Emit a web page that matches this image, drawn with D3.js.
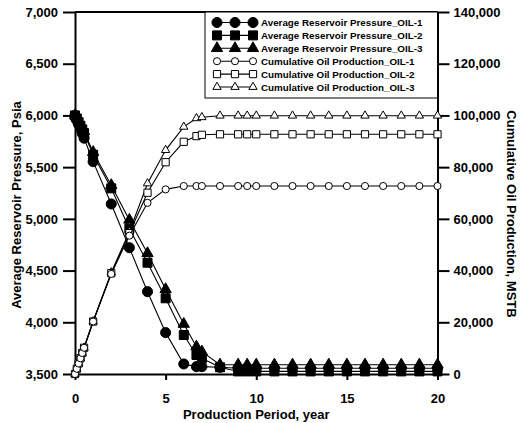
<!DOCTYPE html>
<html>
<head>
<meta charset="utf-8">
<script src="https://cdn.jsdelivr.net/npm/d3@7"></script>
<style>
  body { margin: 0; background: #fff; }
  text { font-family: "Liberation Sans", Arial, sans-serif; font-weight: bold; }
</style>
</head>
<body>
<svg id="chart" width="521" height="423"></svg>
<script>
// time axis, years
const years = [0, 0.1, 0.2, 0.3, 0.4, 0.5, 1, 2, 3, 4, 5, 6, 6.7, 7, 8, 9, 9.5, 10,
    11, 12, 13, 14, 15, 16, 17, 18, 19, 20];

// average reservoir pressure, psia
const pressOil1 = [6000, 5960, 5915, 5870, 5825, 5780, 5553, 5144, 4721, 4296, 3900, 3597, 3571, 3571, 3565,
    3555, 3555, 3555, 3555, 3555, 3555, 3555, 3555, 3555, 3555, 3555, 3555, 3555];
const pressOil2 = [6000, 5970, 5935, 5900, 5865, 5830, 5620, 5295, 4905, 4576, 4232, 3877, 3684, 3652, 3565,
    3525, 3525, 3525, 3525, 3525, 3525, 3525, 3525, 3525, 3525, 3525, 3525, 3525];
const pressOil3 = [6000, 5975, 5945, 5915, 5880, 5845, 5645, 5325, 4990, 4667, 4319, 3983, 3764, 3716, 3590,
    3590, 3590, 3590, 3590, 3590, 3590, 3590, 3590, 3590, 3590, 3590, 3590, 3590];

// cumulative oil production, MSTB
const cumOil1 = [0, 2030, 4060, 6090, 8120, 10150, 20300, 38700, 53500, 66200, 71400, 72700, 72700, 72700,
    72700, 72700, 72700, 72700, 72700, 72700, 72700, 72700, 72700, 72700, 72700, 72700, 72700, 72700];
const cumOil2 = [0, 2030, 4060, 6090, 8120, 10150, 20300, 39000, 54500, 70100, 81900, 89800, 92000, 92500,
    92700, 92700, 92700, 92700, 92700, 92700, 92700, 92700, 92700, 92700, 92700, 92700, 92700, 92700];
const cumOil3 = [0, 2030, 4060, 6090, 8120, 10150, 20300, 39300, 55000, 73700, 86600, 95600, 98900, 99300,
    99900, 99900, 99900, 99900, 99900, 99900, 99900, 99900, 99900, 99900, 99900, 99900, 99900, 99900];

const xTicks = [0, 5, 10, 15, 20];
const pressTicks = [3500, 4000, 4500, 5000, 5500, 6000, 6500, 7000];
const cumTicks = [0, 20000, 40000, 60000, 80000, 100000, 120000, 140000];

const legendLabels = [
    "Average Reservoir Pressure_OIL-1",
    "Average Reservoir Pressure_OIL-2",
    "Average Reservoir Pressure_OIL-3",
    "Cumulative Oil Production_OIL-1",
    "Cumulative Oil Production_OIL-2",
    "Cumulative Oil Production_OIL-3"
];

function makeChart() {
    let left = 75, right = 437.5, top = 12, bottom = 374;
    let svg = d3.select("#chart");

    let scX = d3.scaleLinear().domain([0, 20]).range([left, right]);
    let scP = d3.scaleLinear().domain([3500, 7000]).range([bottom, top]);
    let scC = d3.scaleLinear().domain([0, 140000]).range([bottom, top]);
    let fmt = d3.format(",");

    // axes
    let axL = svg.append("g").attr("transform", `translate(${left},0)`)
        .call(d3.axisLeft(scP).tickValues(pressTicks).tickFormat(fmt)
            .tickSize(12).tickSizeOuter(0).tickPadding(5));
    let axR = svg.append("g").attr("transform", `translate(${right},0)`)
        .call(d3.axisRight(scC).tickValues(cumTicks).tickFormat(fmt)
            .tickSize(12).tickSizeOuter(0).tickPadding(4));
    let axB = svg.append("g").attr("transform", `translate(0,${bottom})`)
        .call(d3.axisBottom(scX).tickValues(xTicks).tickFormat(d3.format("d"))
            .tickSize(6).tickSizeOuter(0).tickPadding(14));

    [axL, axR, axB].forEach(ax => {
        ax.selectAll("path.domain").attr("stroke", "#000").attr("stroke-width", 2);
        ax.selectAll(".tick line").attr("stroke", "#000").attr("stroke-width", 2);
        ax.selectAll(".tick text").attr("fill", "#000")
            .style("font-size", "13px").style("font-family", "'Liberation Sans', Arial, sans-serif")
            .style("font-weight", "bold");
    });

    // top border
    svg.append("line")
        .attr("x1", left).attr("x2", right).attr("y1", top).attr("y2", top)
        .attr("stroke", "#000").attr("stroke-width", 2);

    // axis titles
    svg.append("text").attr("x", (left + right) / 2).attr("y", 419)
        .attr("text-anchor", "middle").style("font-size", "13px")
        .text("Production Period, year");
    svg.append("text")
        .attr("transform", "translate(21,205) rotate(-90)")
        .attr("text-anchor", "middle").style("font-size", "13px")
        .text("Average Reservoir Pressure, Psia");
    svg.append("text")
        .attr("transform", "translate(507,214) rotate(90)")
        .attr("text-anchor", "middle").style("font-size", "13px")
        .text("Cumulative Oil Production, MSTB");

    // series: drawn triangles first so circles end up on top
    let series = [
        { vals: pressOil3, sc: scP, shape: d3.symbolTriangle, size: 55, fill: "#000" },
        { vals: pressOil2, sc: scP, shape: d3.symbolSquare, size: 81, fill: "#000" },
        { vals: pressOil1, sc: scP, shape: d3.symbolCircle, size: 80, fill: "#000" },
        { vals: cumOil3, sc: scC, shape: d3.symbolTriangle, size: 30, fill: "#fff" },
        { vals: cumOil2, sc: scC, shape: d3.symbolSquare, size: 52, fill: "#fff" },
        { vals: cumOil1, sc: scC, shape: d3.symbolCircle, size: 40, fill: "#fff" }
    ];

    series.forEach(s => {
        let g = svg.append("g");
        let lineMaker = d3.line()
            .x((d, i) => scX(years[i]))
            .y(d => s.sc(d));
        g.append("path")
            .attr("fill", "none").attr("stroke", "#000").attr("stroke-width", 1.1)
            .attr("d", lineMaker(s.vals));
        g.selectAll("path.pt")
            .data(s.vals).enter().append("path")
            .attr("class", "pt")
            .attr("d", d3.symbol().type(s.shape).size(s.size))
            .attr("transform", (d, i) => `translate(${scX(years[i])},${s.sc(d)})`)
            .attr("fill", s.fill).attr("stroke", "#000").attr("stroke-width", 1);
    });

    // legend
    let lg = svg.append("g");
    lg.append("rect")
        .attr("x", 205).attr("y", top).attr("width", right - 205).attr("height", 86)
        .attr("fill", "#fff").attr("stroke", "#000").attr("stroke-width", 1);

    let legendMarks = [series[2], series[1], series[0], series[5], series[4], series[3]];
    legendMarks.forEach((s, i) => {
        let y = 22.5 + i * 12.9;
        lg.append("line")
            .attr("x1", 217).attr("x2", 253).attr("y1", y).attr("y2", y)
            .attr("stroke", "#000").attr("stroke-width", 1.1);
        [217, 235, 253].forEach(x => {
            lg.append("path")
                .attr("d", d3.symbol().type(s.shape).size(s.size))
                .attr("transform", `translate(${x},${y})`)
                .attr("fill", s.fill).attr("stroke", "#000").attr("stroke-width", 1);
        });
        lg.append("text")
            .attr("x", 261).attr("y", y + 3.5)
            .style("font-size", "9.8px")
            .text(legendLabels[i]);
    });
}

makeChart();
</script>
</body>
</html>
